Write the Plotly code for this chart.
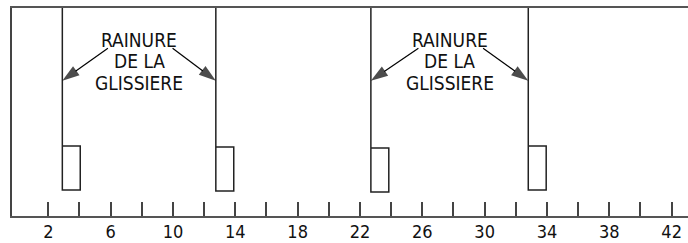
import plotly.graph_objects as go

# ---- data ----
groove_x = [2.9, 12.75, 22.7, 32.8]          # positions of the slide grooves
block_top = [70, 69, 68, 70]                 # top of each small block
block_bottom = [26, 25, 24, 26]              # bottom of each small block
block_width = 1.15
label_lines = ["RAINURE", "DE LA", "GLISSIERE"]
tick_values = [2, 4, 6, 8, 10, 12, 14, 16, 18, 20, 22, 24, 26, 28, 30, 32, 34, 36, 38, 40, 42]
tick_labels = ["2", "", "6", "", "10", "", "14", "", "18", "", "22", "", "26", "", "30", "", "34", "", "38", "", "42"]

FRAME_TOP = 208
X_RANGE = [-0.33, 43.05]
FONT = "DejaVu Sans Condensed, Liberation Sans Narrow, Arial Narrow, sans-serif"

fig = go.Figure()

# grooves: vertical line from top frame down through the left edge of each block
for gx, top, bot in zip(groove_x, block_top, block_bottom):
    fig.add_trace(go.Scatter(
        x=[gx, gx, gx + block_width, gx + block_width, gx],
        y=[FRAME_TOP, bot, bot, top, top],
        mode="lines",
        line=dict(color="#222222", width=1.5),
        hoverinfo="skip",
        showlegend=False,
    ))

# labels with arrows, one per pair of grooves
label_y = 154.6
line_gap = 21.5
tip_y = 135.3
tail_y = 167.8
for left, right in [(groove_x[0], groove_x[1]), (groove_x[2], groove_x[3])]:
    cx = (left + right) / 2
    for i, txt in enumerate(label_lines):
        fig.add_annotation(
            x=cx, y=label_y + line_gap * (1 - i), text=txt, showarrow=False,
            font=dict(family=FONT, size=19, color="#111111"),
            xanchor="center", yanchor="middle",
        )
    for tail_x, tip_x in [(cx - 2.0, left), (cx + 2.15, right)]:
        fig.add_trace(go.Scatter(
            x=[tail_x, tip_x], y=[tail_y, tip_y],
            mode="lines+markers",
            line=dict(color="#000000", width=1.2),
            marker=dict(symbol=["circle", "arrow"], size=[0, 18],
                        angleref="previous", color="#000000",
                        line=dict(width=0)),
            hoverinfo="skip",
            showlegend=False,
        ))

fig.update_layout(
    width=688, height=243,
    margin=dict(l=12, r=0, t=8, b=27),
    paper_bgcolor="white", plot_bgcolor="white",
    xaxis=dict(
        range=X_RANGE, showgrid=False, zeroline=False,
        showline=True, linecolor="#555555", linewidth=2, mirror=True,
        tickmode="array", tickvals=tick_values, ticktext=tick_labels,
        ticks="inside", ticklen=14, tickwidth=1.5, tickcolor="#444444",
        tickfont=dict(family=FONT, size=18, color="#111111"),
        ticklabelstandoff=-2, automargin=False, fixedrange=True,
    ),
    yaxis=dict(
        range=[0, FRAME_TOP], showgrid=False, zeroline=False,
        showline=True, linecolor="#444444", linewidth=2,
        showticklabels=False, ticks="", automargin=False, fixedrange=True,
    ),
)

fig.write_html(
    "out.html",
    config={"displayModeBar": False},
    post_script="document.body.style.margin='0';document.body.style.padding='0';",
)
